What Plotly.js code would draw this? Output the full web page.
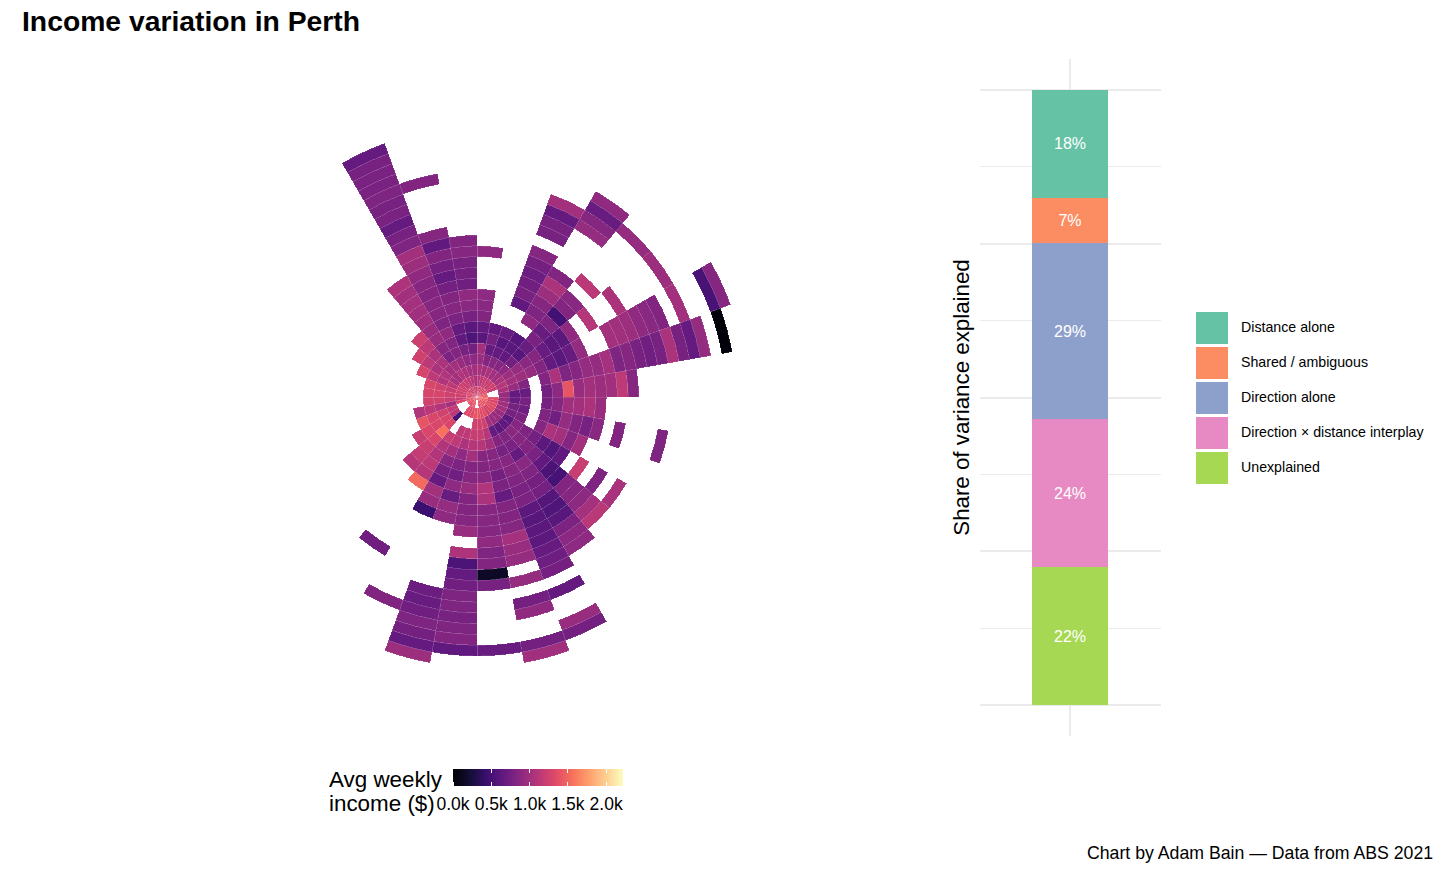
<!DOCTYPE html>
<html><head><meta charset="utf-8">
<script src="https://cdn.plot.ly/plotly-3.0.1.min.js"></script>
<style>html,body{margin:0;padding:0;background:#fff}</style></head>
<body><div id="chart" style="width:1456px;height:874px"></div>
<script>
const _ = null;
// Average weekly income ($): one row per 10-degree sector clockwise from north, one entry per distance ring from the centre
const incomeBySector = [
 [1180,1100,1050,950,1000,610,670,830,870,900,_,_,_,900],
 [1250,1150,1000,830,670,750,670],
 [1300,1200,1050,850,670,590,690,_,_,650,770,730,710,750,850,_,770,770,670,1000],
 [1300,1200,1000,850,650,610,590,_,910,810,850,970,1050,830,_,_,_,_,930,850,690,910],
 [1300,1200,1000,900,750,590,690,790,690,810,490,830,870,_,1130,_,_,_,_,_,930],
 [1300,1250,1050,970,930,880,850,690,610,610,910,_,1100,_,_,1050,_,_,_,_,970],
 [1350,1200,1100,1000,970,930,830,670,610,690,930,_,_,1000,990,970,910,870,830,_,1000,_,_,520,850],
 [1400,_,1050,950,830,_,830,1050,810,850,930,930,1010,810,850,770,730,770,1050,770,670,930,_,20],
 [1450,_,950,670,690,_,750,890,1400,950,1000,970,990,1150,850],
 [1500,1350,950,690,770,_,770,850,990,1000,1050,950],
 [1500,1300,1000,770,730,_,810,730,930,830,770,870,_,830,_,_,_,810],
 [1450,1350,1000,770,800,_,850,1050,1000,850,1000],
 [1400,1350,950,630,850,810,750,630,570,650,_,1200,_,810,_,1030],
 [1400,1300,950,650,870,850,830,790,650,530,510,830,850,890,1010,1120],
 [1400,1250,950,630,810,790,670,870,810,760,750,580,560,600,800,880,900],
 [1400,1350,1000,670,830,770,850,850,810,780,800,620,600,620,620,680,720,760,_,670,_,_,950,750],
 [1350,1350,1250,1100,1000,850,850,750,800,670,830,830,850,1010,950,930,_,930,_,750,910,_,_,750,990],
 [_,1400,1250,1200,1100,850,830,870,1080,1050,850,850,850,910,810,830,150,770,_,_,_,_,_,690],
 [_,1400,1250,1200,1100,1000,830,850,950,830,830,850,950,_,1060,540,670,730,810,810,770,810,830,650],
 [1400,1350,_,1150,1050,900,800,730,900,690,930,900,_,_,_,_,_,_,710,690,730,810,750,670,970],
 [1400,1350,_,1150,1150,1000,850,750,670,1000,950,440,_,_,_,_,_,_,_,_,830],
 [1400,1350,_,_,1200,1080,1080,1130,1100,1520,_,_,_,_,_,_,730],
 [1300,_,520,1300,1560,1280,1200,1180,1100],
 [1400,_,1130,1300,1300,1300,1200],
 [1400,_,1180,1250,1300,1400],
 [1350,1300,1000,1080,1130,1080],
 [1300,1200,1200,1250,1250],
 [1300,1250,1250,1280,1280],
 [1300,1250,1200,1250,1300],
 [1300,1250,1130,1080,1150,1280],
 [1300,1250,1050,1080,1050,1130,1250],
 [1250,1200,1000,1000,1050,1050,1130,1220],
 [1250,1200,1080,1000,800,850,950,950,980,990,1010,1000,1060],
 [1250,1150,1050,950,830,830,910,810,850,850,830,850,910,970,1000,810,770,670,790,770,810,780,780,770,670],
 [1200,1100,1000,900,770,650,670,800,850,830,750,670,750,830,650,850,_,_,_,_,830],
 [1200,1050,1000,900,750,550,610,770,870,910,730,750,770,850,830]
];
const sectorWidth = 10;
const incomeTicks = [0,500,1000,1500,2000];
const incomeTickText = ['0.0k','0.5k','1.0k','1.5k','2.0k'];
const incomeMax = 2220;
const magma = [[0,'#000004'],[0.1,'#140e36'],[0.2,'#3b0f70'],[0.3,'#641a80'],[0.4,'#8c2981'],[0.5,'#b73779'],[0.6,'#de4968'],[0.7,'#f7705c'],[0.8,'#fe9f6d'],[0.9,'#fecf92'],[1,'#fcfdbf']];

const shareNames = ['Distance alone','Shared / ambiguous','Direction alone','Direction × distance interplay','Unexplained'];
const shareValues = [17.6,7.3,28.6,24.1,22.4];
const shareLabels = ['18%','7%','29%','24%','22%'];
const shareColors = ['#66c2a5','#fc8d62','#8da0cb','#e78ac3','#a6d854'];
const shareMajor = [0,25,50,75,100];
const shareMinor = [12.5,37.5,62.5,87.5];

const font = 'Liberation Sans, Arial, sans-serif';
const W = 1456, H = 874;
const px = v => v / W, py = v => (H - v) / H;

const r = [], theta = [], base = [], color = [];
incomeBySector.forEach((row, s) => row.forEach((v, k) => {
  if (v === null) return;
  r.push(1); base.push(k); theta.push((s + 0.5) * sectorWidth); color.push(v);
}));

const cbCommon = {orientation:'h', xanchor:'left', x:px(453), xpad:0, ypad:0, len:170, lenmode:'pixels',
  yanchor:'top', outlinewidth:0, tickmode:'array', tickvals:incomeTicks, tickcolor:'#fff', tickwidth:1};
const stripTrace = cb => ({type:'barpolar', subplot:'polar', r:r.slice(0,1), base:base.slice(0,1), theta:theta.slice(0,1), width:sectorWidth,
  hoverinfo:'skip', showlegend:false,
  marker:{color:color.slice(0,1), cmin:0, cmax:incomeMax, colorscale:magma, showscale:true, line:{width:0}, colorbar:cb}});
const traces = [];
// top and bottom strips of the colour bar: together with the main bar they give the short white ticks
traces.push(stripTrace(Object.assign({}, cbCommon, {thickness:4, y:py(769), ticks:'inside', ticklen:4, showticklabels:false})));
traces.push(stripTrace(Object.assign({}, cbCommon, {thickness:4, y:py(782), ticks:'', showticklabels:false})));
traces.push({type:'barpolar', subplot:'polar', r, base, theta, width:sectorWidth, showlegend:false,
  marker:{color, cmin:0, cmax:incomeMax, colorscale:magma, showscale:true,
    line:{color:'rgba(255,255,255,0.24)', width:0.5},
    colorbar:Object.assign({}, cbCommon, {thickness:9, y:py(773), ticks:'outside', ticklen:7, ticktext:incomeTickText,
      tickfont:{family:font, size:17.5, color:'#000'}})}});
// stacked share bar, drawn from the bottom up
for (let i = shareNames.length - 1; i >= 0; i--) {
  traces.push({type:'bar', xaxis:'x2', yaxis:'y2', x:[1], y:[shareValues[i]], width:0.505, name:shareNames[i],
    marker:{color:shareColors[i], line:{width:0}}, text:[shareLabels[i]], textposition:'inside', insidetextanchor:'middle',
    textangle:0, textfont:{family:font, size:16, color:'#fff'}, showlegend:false});
}
// legend keys and labels on their own hidden axes
traces.push({type:'scatter', mode:'markers', xaxis:'x3', yaxis:'y3', x:shareNames.map(()=>0), y:shareNames.map((n,i)=>i),
  marker:{symbol:'square', size:32, color:shareColors, line:{width:0}}, cliponaxis:false, showlegend:false, hoverinfo:'skip'});
traces.push({type:'scatter', mode:'text', xaxis:'x3', yaxis:'y3', x:shareNames.map(()=>1), y:shareNames.map((n,i)=>i),
  text:shareNames, textposition:'middle right', textfont:{family:font, size:14.2, color:'#000'}, cliponaxis:false, showlegend:false, hoverinfo:'skip'});

const layout = {
  width:W, height:H, margin:{l:0,r:0,t:0,b:0,pad:0}, paper_bgcolor:'#fff', plot_bgcolor:'#fff',
  font:{family:font, color:'#000'}, barmode:'stack', showlegend:false,
  title:{text:'<b>Income variation in Perth</b>', x:px(22), xanchor:'left', xref:'paper', y:py(21), yanchor:'middle', yref:'paper',
    font:{family:font, size:28.3, color:'#000'}},
  polar:{domain:{x:[px(177),px(777)], y:[py(697),py(97)]}, bgcolor:'rgba(0,0,0,0)', barmode:'overlay',
    radialaxis:{visible:false, range:[0,300/10.8]},
    angularaxis:{visible:false, direction:'clockwise', rotation:90}},
  xaxis2:{domain:[px(979.5),px(1160.5)], range:[0.4,1.6], anchor:'y2', tickvals:[1], showticklabels:false, ticks:'',
    showgrid:true, gridcolor:'#ebebeb', gridwidth:2, zeroline:false, showline:false, fixedrange:true},
  yaxis2:{domain:[py(736),py(59)], range:[-5,105], anchor:'x2', tickvals:shareMajor, showticklabels:false, ticks:'',
    showgrid:true, gridcolor:'#ebebeb', gridwidth:2, zeroline:false, showline:false,
    minor:{tickvals:shareMinor, showgrid:true, gridcolor:'#ebebeb', gridwidth:1, ticks:''},
    title:{text:'Share of variance explained', standoff:2, font:{family:font, size:22.3, color:'#000'}}},
  xaxis3:{domain:[px(1212),px(1241)], range:[0,1], anchor:'y3', visible:false},
  yaxis3:{domain:[py(468),py(328)], range:[4,0], anchor:'x3', visible:false},
  annotations:[
    {text:'Avg weekly', xref:'paper', yref:'paper', x:px(327), y:py(779), xanchor:'left', yanchor:'middle', showarrow:false, font:{family:font, size:22.4, color:'#000'}},
    {text:'income ($)', xref:'paper', yref:'paper', x:px(327), y:py(803), xanchor:'left', yanchor:'middle', showarrow:false, font:{family:font, size:22.4, color:'#000'}},
    {text:'Chart by Adam Bain — Data from ABS 2021', xref:'paper', yref:'paper', x:px(1435), y:py(853), xanchor:'right', yanchor:'middle', showarrow:false, font:{family:font, size:17.7, color:'#000'}}
  ]
};
Plotly.newPlot('chart', traces, layout, {displayModeBar:false, staticPlot:true});
</script></body></html>
